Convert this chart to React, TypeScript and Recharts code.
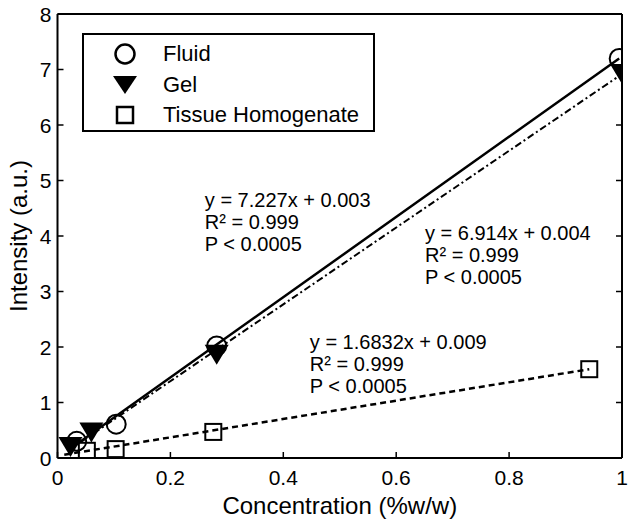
import React from 'react';
import { ComposedChart, Line, Scatter, XAxis, YAxis, ReferenceDot } from 'recharts';

const xTicks = [0, 0.2, 0.4, 0.6, 0.8, 1];
const yTicks = [0, 1, 2, 3, 4, 5, 6, 7, 8];

// measured points
const fluid = [
  { x: 0.034, y: 0.3 },
  { x: 0.104, y: 0.61 },
  { x: 0.282, y: 2.02 },
  { x: 0.995, y: 7.2 },
];
const gel = [
  { x: 0.023, y: 0.2 },
  { x: 0.06, y: 0.46 },
  { x: 0.282, y: 1.86 },
  { x: 1.0, y: 6.92 },
];
const tissue = [
  { x: 0.052, y: 0.13 },
  { x: 0.103, y: 0.16 },
  { x: 0.276, y: 0.47 },
  { x: 0.942, y: 1.6 },
];

// fitted lines, end points
const fluidFit = [
  { x: 0.02, y: 0.15 },
  { x: 0.995, y: 7.2 },
];
const gelFit = [
  { x: 0.02, y: 0.14 },
  { x: 0.99, y: 6.85 },
];
const tissueFit = [
  { x: 0.012, y: 0.06 },
  { x: 0.942, y: 1.6 },
];

const fluidNote = ['y = 7.227x + 0.003', 'R² = 0.999', 'P < 0.0005'];
const gelNote = ['y = 6.914x + 0.004', 'R² = 0.999', 'P < 0.0005'];
const tissueNote = ['y = 1.6832x + 0.009', 'R² = 0.999', 'P < 0.0005'];

const legendItems = ['Fluid', 'Gel', 'Tissue Homogenate'];

const FONT = '"Liberation Sans", Arial, sans-serif';
const TICK = 6;

const BottomTick = (props: any) => {
  const { x, y, payload } = props;
  return (
    <g>
      <line x1={x} x2={x} y1={y} y2={y - TICK} stroke="#000" strokeWidth={1.5} />
      <text x={x} y={y + 19} textAnchor="middle" dominantBaseline="central" fontSize={21} fontFamily={FONT} fill="#000">
        {String(payload.value)}
      </text>
    </g>
  );
};

const LeftTick = (props: any) => {
  const { x, y, payload } = props;
  return (
    <g>
      <line x1={x} x2={x + TICK} y1={y} y2={y} stroke="#000" strokeWidth={1.5} />
      <text x={x - 6} y={y} textAnchor="end" dominantBaseline="central" fontSize={21} fontFamily={FONT} fill="#000">
        {String(payload.value)}
      </text>
    </g>
  );
};

const TopTick = (props: any) => {
  const { x, y } = props;
  return <line x1={x} x2={x} y1={y} y2={y + TICK} stroke="#000" strokeWidth={1.5} />;
};

const RightTick = (props: any) => {
  const { x, y } = props;
  return <line x1={x} x2={x - TICK} y1={y} y2={y} stroke="#000" strokeWidth={1.5} />;
};

const CircleMark = (props: any) => (
  <circle cx={props.cx} cy={props.cy} r={9.5} fill="none" stroke="#000" strokeWidth={2} />
);

const TriangleMark = (props: any) => {
  const { cx, cy } = props;
  return <path d={`M${cx - 12},${cy - 10} L${cx + 12},${cy - 10} L${cx},${cy + 10} Z`} fill="#000" />;
};

const SquareMark = (props: any) => (
  <rect x={props.cx - 8} y={props.cy - 8} width={16} height={16} fill="none" stroke="#000" strokeWidth={2} />
);

const makeNote = (lines: string[]) => (props: any) => (
  <text x={props.cx} y={props.cy} fontSize={20} fontFamily={FONT} fill="#000" dominantBaseline="central">
    {lines.map((l, i) => (
      <tspan key={i} x={props.cx} dy={i === 0 ? 0 : 22}>
        {l}
      </tspan>
    ))}
  </text>
);

const XTitle = (props: any) => {
  const { viewBox } = props;
  return (
    <text
      x={viewBox.x + viewBox.width / 2}
      y={505}
      textAnchor="middle"
      dominantBaseline="central"
      fontSize={24}
      fontFamily={FONT}
      fill="#000"
    >
      Concentration (%w/w)
    </text>
  );
};

const YTitle = (props: any) => {
  const { viewBox } = props;
  const cy = viewBox.y + viewBox.height / 2;
  return (
    <text
      x={18}
      y={cy}
      transform={`rotate(-90 18 ${cy})`}
      textAnchor="middle"
      dominantBaseline="central"
      fontSize={24}
      fontFamily={FONT}
      fill="#000"
    >
      Intensity (a.u.)
    </text>
  );
};

const legendIcons = [
  <circle cx={12} cy={12} r={9.5} fill="none" stroke="#000" strokeWidth={2.5} />,
  <path d="M0,3 L24,3 L12,21 Z" fill="#000" />,
  <rect x={4} y={4} width={16} height={16} fill="none" stroke="#000" strokeWidth={2.5} />,
];

const App = () => {
  return (
    <div style={{ position: 'absolute', left: 0, top: 0, width: 641, height: 523, background: '#fff', fontFamily: FONT }}>
      <ComposedChart width={641} height={523} margin={{ top: 13, right: 18, bottom: 35, left: 17.5 }}>
        <XAxis
          dataKey="x"
          type="number"
          domain={[0, 1]}
          allowDataOverflow
          ticks={xTicks}
          interval={0}
          tickSize={0}
          tickMargin={0}
          tickLine={false}
          tick={<BottomTick />}
          height={30}
          axisLine={{ stroke: '#000', strokeWidth: 2 }}
          label={{ content: XTitle }}
        />
        <XAxis
          xAxisId="top"
          orientation="top"
          type="number"
          domain={[0, 1]}
          allowDataOverflow
          ticks={xTicks}
          interval={0}
          tickSize={0}
          tickMargin={0}
          tickLine={false}
          tick={<TopTick />}
          height={1}
          axisLine={{ stroke: '#000', strokeWidth: 2 }}
        />
        <YAxis
          dataKey="y"
          type="number"
          domain={[0, 8]}
          allowDataOverflow
          ticks={yTicks}
          interval={0}
          tickSize={0}
          tickMargin={0}
          tickLine={false}
          tick={<LeftTick />}
          width={40}
          axisLine={{ stroke: '#000', strokeWidth: 2 }}
          label={{ content: YTitle }}
        />
        <YAxis
          yAxisId="right"
          orientation="right"
          type="number"
          domain={[0, 8]}
          allowDataOverflow
          ticks={yTicks}
          interval={0}
          tickSize={0}
          tickMargin={0}
          tickLine={false}
          tick={<RightTick />}
          width={1}
          axisLine={{ stroke: '#000', strokeWidth: 2 }}
        />

        <Line data={fluidFit} dataKey="y" type="linear" stroke="#000" strokeWidth={2.5} dot={false} isAnimationActive={false} />
        <Line
          data={gelFit}
          dataKey="y"
          type="linear"
          stroke="#000"
          strokeWidth={2}
          strokeDasharray="7 3 2 3"
          dot={false}
          isAnimationActive={false}
        />
        <Line
          data={tissueFit}
          dataKey="y"
          type="linear"
          stroke="#000"
          strokeWidth={2.5}
          strokeDasharray="6 4"
          dot={false}
          isAnimationActive={false}
        />

        <Scatter data={fluid} dataKey="y" shape={CircleMark} isAnimationActive={false} />
        <Scatter data={gel} dataKey="y" shape={TriangleMark} isAnimationActive={false} />
        <Scatter data={tissue} dataKey="y" shape={SquareMark} isAnimationActive={false} />

        <ReferenceDot x={0.261} y={4.65} shape={makeNote(fluidNote)} />
        <ReferenceDot x={0.651} y={4.05} shape={makeNote(gelNote)} />
        <ReferenceDot x={0.447} y={2.09} shape={makeNote(tissueNote)} />
      </ComposedChart>

      <div
        style={{
          position: 'absolute',
          left: 82,
          top: 33,
          width: 293,
          height: 99,
          boxSizing: 'border-box',
          border: '2px solid #000',
          background: '#fff',
        }}
      >
        {legendItems.map((name, i) => (
          <div
            key={name}
            style={{
              position: 'absolute',
              left: 0,
              top: [19, 50, 80][i] - 14,
              height: 28,
              display: 'flex',
              alignItems: 'center',
              whiteSpace: 'nowrap',
            }}
          >
            <svg width={24} height={24} style={{ marginLeft: 29 }}>
              {legendIcons[i]}
            </svg>
            <span style={{ marginLeft: 26, fontSize: 22, color: '#000' }}>{name}</span>
          </div>
        ))}
      </div>
    </div>
  );
};

export default App;
